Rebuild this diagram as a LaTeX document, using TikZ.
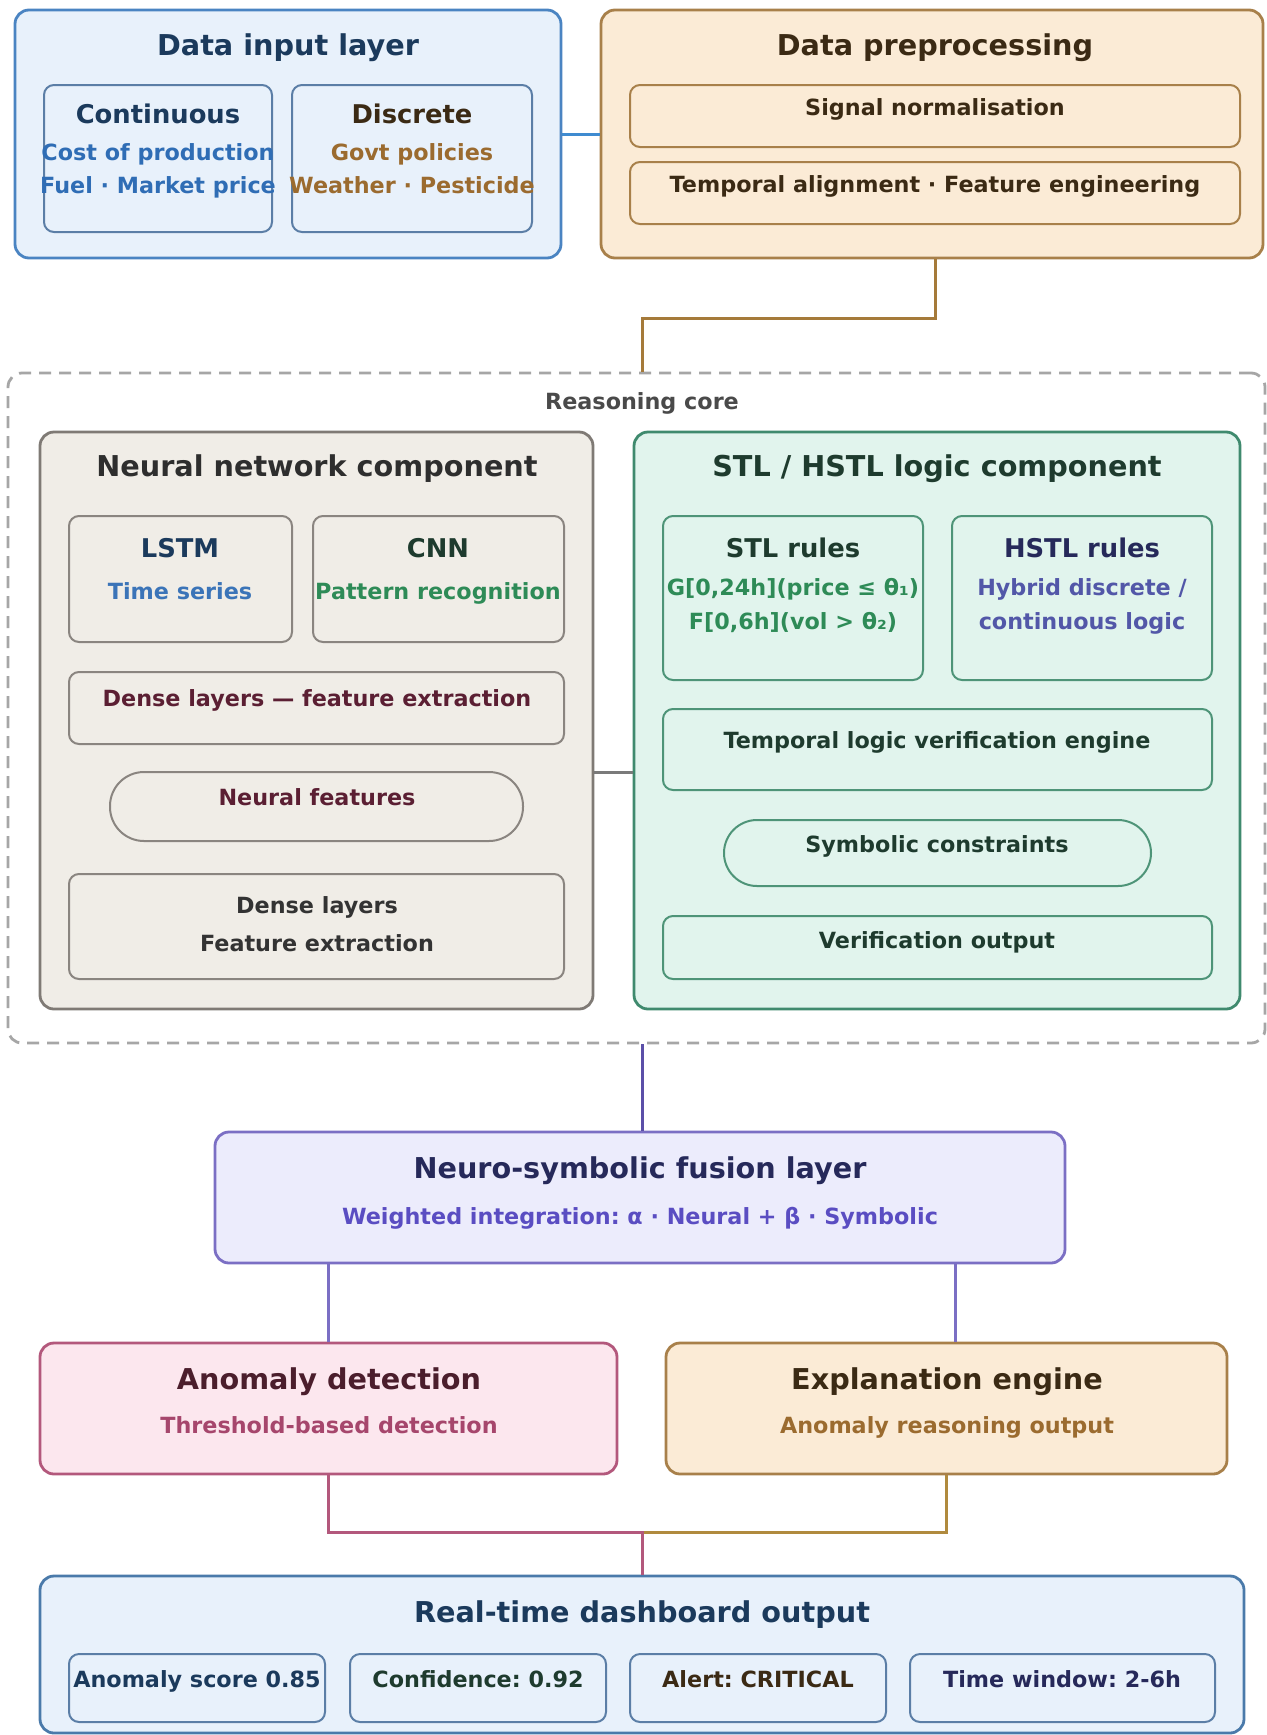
\documentclass[tikz,border=0pt]{standalone}
\usepackage{fontspec}
\setmainfont{DejaVu Sans}
\usetikzlibrary{fit,calc}
\frenchspacing
\definecolor{inFill}{HTML}{E8F1FB}
\definecolor{inDraw}{HTML}{4A84C2}
\definecolor{inInner}{HTML}{5B7EA6}
\definecolor{navy}{HTML}{1B3A5C}
\definecolor{blueTxt}{HTML}{2F6DB5}
\definecolor{brownDark}{HTML}{3B2A14}
\definecolor{brownTxt}{HTML}{9B6B2F}
\definecolor{preFill}{HTML}{FBEBD6}
\definecolor{preDraw}{HTML}{A8804A}
\definecolor{coreDraw}{HTML}{A6A6A6}
\definecolor{coreTxt}{HTML}{4A4A4A}
\definecolor{nnFill}{HTML}{F0EDE7}
\definecolor{nnDraw}{HTML}{7F7A75}
\definecolor{nnInner}{HTML}{8A8580}
\definecolor{darkGray}{HTML}{2E2E2E}
\definecolor{midGray}{HTML}{333333}
\definecolor{lstmBlue}{HTML}{3B74B8}
\definecolor{greenDark}{HTML}{1E3B2E}
\definecolor{greenTxt}{HTML}{2E8B57}
\definecolor{maroon}{HTML}{5B1F33}
\definecolor{stlFill}{HTML}{E1F4ED}
\definecolor{stlDraw}{HTML}{3F8A6E}
\definecolor{stlInner}{HTML}{4E9478}
\definecolor{indigoDark}{HTML}{26295A}
\definecolor{indigoTxt}{HTML}{5257A8}
\definecolor{fusFill}{HTML}{ECECFC}
\definecolor{fusDraw}{HTML}{7B6FC4}
\definecolor{fusTxt}{HTML}{5A4DC2}
\definecolor{anFill}{HTML}{FCE7EE}
\definecolor{anDraw}{HTML}{B3587C}
\definecolor{anDark}{HTML}{4B1E2C}
\definecolor{anTxt}{HTML}{A6466C}
\definecolor{dashDraw}{HTML}{4A7AAA}
\definecolor{wireBlue}{HTML}{3F8BD0}
\definecolor{wireGold}{HTML}{A57A3A}
\definecolor{wireGray}{HTML}{7A7A7A}
\definecolor{wirePurple}{HTML}{5B4FA8}
\definecolor{wireGold2}{HTML}{B08A3E}
\begin{document}
\begin{tikzpicture}[x=0.5pt,y=-0.5pt,
  outer/.style={draw, line width=1.4pt, rounded corners=7pt, inner sep=0pt},
  innerbox/.style={draw, line width=1pt, rounded corners=5pt, inner sep=0pt},
  pill/.style={draw, line width=1pt, rounded corners=16.5pt, inner sep=0pt},
  ttl/.style={anchor=base, inner sep=0pt, font=\bfseries\fontsize{14.35}{17}\selectfont},
  sub/.style={anchor=base, inner sep=0pt, font=\bfseries\fontsize{12.9}{15}\selectfont},
  txt/.style={anchor=base, inner sep=0pt, font=\bfseries\fontsize{11.15}{13}\selectfont},
  wire/.style={line width=1.5pt}]
\useasboundingbox (0,0) rectangle (1266,1735);
\fill[white] (0,0) rectangle (1266,1735);

% ---------- Data input layer ----------
\node[outer, fill=inFill, draw=inDraw, fit={(15,10) (561,258)}] (inp) {};
\node[innerbox, fill=inFill, draw=inInner, fit={(44,85) (272,232)}] (cont) {};
\node[innerbox, fill=inFill, draw=inInner, fit={(292,85) (532,232)}] (disc) {};
\node[ttl, text=navy] (tinp) at (288,55) {Data input layer};
\node[sub, text=navy] (tcont) at (158,123.5) {Continuous};
\node[txt, text=blueTxt] (tcont1) at (158,160) {Cost of production};
\node[txt, text=blueTxt] (tcont2) at (158,193.4) {Fuel · Market price};
\node[sub, text=brownDark] (tdisc) at (412,123.5) {Discrete};
\node[txt, text=brownTxt] (tdisc1) at (412,160) {Govt policies};
\node[txt, text=brownTxt] (tdisc2) at (412,193.4) {Weather · Pesticide};

% ---------- Data preprocessing ----------
\node[outer, fill=preFill, draw=preDraw, fit={(601,10) (1263,258)}] (pre) {};
\node[innerbox, fill=preFill, draw=preDraw, fit={(630,85) (1240,147)}] (norm) {};
\node[innerbox, fill=preFill, draw=preDraw, fit={(630,162) (1240,224)}] (align) {};
\node[ttl, text=brownDark] (tpre) at (935,55) {Data preprocessing};
\node[txt, text=brownDark] (tnorm) at (935,115.4) {Signal normalisation};
\node[txt, text=brownDark] (talign) at (935,192.4) {Temporal alignment · Feature engineering};

% ---------- Reasoning core ----------
\node[draw=coreDraw, line width=1.4pt, dash pattern=on 6pt off 4pt, rounded corners=7pt, inner sep=0pt, fit={(8,373) (1265,1043)}] (core) {};
\node[txt, text=coreTxt] (tcore) at (642,409.4) {Reasoning core};

% Neural network component
\node[outer, fill=nnFill, draw=nnDraw, fit={(40,432) (593,1009)}] (nn) {};
\node[innerbox, fill=nnFill, draw=nnInner, fit={(69,516) (292,642)}] (lstm) {};
\node[innerbox, fill=nnFill, draw=nnInner, fit={(313,516) (564,642)}] (cnn) {};
\node[innerbox, fill=nnFill, draw=nnInner, fit={(69,672) (564,744)}] (dense1) {};
\node[pill, fill=nnFill, draw=nnInner, rounded corners=17pt, fit={(110,772) (523,841)}] (nfeat) {};
\node[innerbox, fill=nnFill, draw=nnInner, fit={(69,874) (564,979)}] (dense2) {};
\node[ttl, text=darkGray] (tnn) at (317,476.5) {Neural network component};
\node[sub, text=navy] (tlstm) at (180,557.5) {LSTM};
\node[txt, text=lstmBlue] (tlstm1) at (180,599.4) {Time series};
\node[sub, text=greenDark] (tcnn) at (438,557.5) {CNN};
\node[txt, text=greenTxt] (tcnn1) at (438,599.4) {Pattern recognition};
\node[txt, text=maroon] (tdense1) at (317,706.4) {Dense layers — feature extraction};
\node[txt, text=maroon] (tnfeat) at (317,805.4) {Neural features};
\node[txt, text=midGray] (tdense2a) at (317,913.4) {Dense layers};
\node[txt, text=midGray] (tdense2b) at (317,951.4) {Feature extraction};

% STL / HSTL logic component
\node[outer, fill=stlFill, draw=stlDraw, fit={(634,432) (1240,1009)}] (stl) {};
\node[innerbox, fill=stlFill, draw=stlInner, fit={(663,516) (923,680)}] (stlr) {};
\node[innerbox, fill=stlFill, draw=stlInner, fit={(952,516) (1212,680)}] (hstl) {};
\node[innerbox, fill=stlFill, draw=stlInner, fit={(663,709) (1212,790)}] (tlve) {};
\node[pill, fill=stlFill, draw=stlInner, fit={(724,820) (1151,886)}] (symc) {};
\node[innerbox, fill=stlFill, draw=stlInner, fit={(663,916) (1212,979)}] (vout) {};
\node[ttl, text=greenDark] (tstl) at (937,476.5) {STL / HSTL logic component};
\node[sub, text=greenDark] (tstlr) at (793,557.5) {STL rules};
\node[txt, text=greenTxt] (tstlr1) at (793,595.4) {G[0,24h](price ≤ θ₁)};
\node[txt, text=greenTxt] (tstlr2) at (793,629.4) {F[0,6h](vol > θ₂)};
\node[sub, text=indigoDark] (thstl) at (1082,557.5) {HSTL rules};
\node[txt, text=indigoTxt] (thstl1) at (1082,595.4) {Hybrid discrete /};
\node[txt, text=indigoTxt] (thstl2) at (1082,629.4) {continuous logic};
\node[txt, text=greenDark] (ttlve) at (937,748.4) {Temporal logic verification engine};
\node[txt, text=greenDark] (tsymc) at (937,852.4) {Symbolic constraints};
\node[txt, text=greenDark] (tvout) at (937,948.4) {Verification output};

% ---------- Fusion ----------
\node[outer, fill=fusFill, draw=fusDraw, fit={(215,1132) (1065,1263)}] (fus) {};
\node[ttl, text=indigoDark] (tfus) at (640,1178.5) {Neuro-symbolic fusion layer};
\node[txt, text=fusTxt] (tfus1) at (640,1224.4) {Weighted integration: α · Neural + β · Symbolic};

% ---------- Anomaly / Explanation ----------
\node[outer, fill=anFill, draw=anDraw, fit={(40,1343) (617,1474)}] (anom) {};
\node[ttl, text=anDark] (tanom) at (329,1389.5) {Anomaly detection};
\node[txt, text=anTxt] (tanom1) at (329,1433.4) {Threshold-based detection};
\node[outer, fill=preFill, draw=preDraw, fit={(666,1343) (1227,1474)}] (expl) {};
\node[ttl, text=brownDark] (texpl) at (947,1389.5) {Explanation engine};
\node[txt, text=brownTxt] (texpl1) at (947,1433.4) {Anomaly reasoning output};

% ---------- Dashboard ----------
\node[outer, fill=inFill, draw=dashDraw, fit={(40,1576) (1244,1733)}] (dash) {};
\node[ttl, text=navy] (tdash) at (642,1622.5) {Real-time dashboard output};
\node[innerbox, fill=inFill, draw=inInner, fit={(69,1654) (325,1722)}] (d1) {};
\node[innerbox, fill=inFill, draw=inInner, fit={(350,1654) (606,1722)}] (d2) {};
\node[innerbox, fill=inFill, draw=inInner, fit={(630,1654) (886,1722)}] (d3) {};
\node[innerbox, fill=inFill, draw=inInner, fit={(910,1654) (1215,1722)}] (d4) {};
\node[txt, text=navy] (td1) at (197,1687.4) {Anomaly score 0.85};
\node[txt, text=greenDark] (td2) at (478,1687.4) {Confidence: 0.92};
\node[txt, text=brownDark] (td3) at (758,1687.4) {Alert: CRITICAL};
\node[txt, text=indigoDark] (td4) at (1062,1687.4) {Time window: 2-6h};

% ---------- Connectors ----------
\draw[wire, draw=wireBlue] (inp.east) -- (pre.west);
\draw[wire, draw=wireGold] ($(pre.south)+(3,0)$) -- ++(0,59) -| ($(core.north)+(6,0)$);
\draw[wire, draw=wireGray] ($(nn.east)+(0,52)$) -- ($(stl.west)+(0,52)$);
\draw[wire, draw=wirePurple] ($(core.south)+(6,0)$) coordinate (cs) -- (cs |- fus.north);
\draw[wire, draw=fusDraw] (fus.south -| anom.north) -- (anom.north);
\draw[wire, draw=fusDraw] ($(fus.south)+(315,0)$) coordinate (fr) -- (fr |- expl.north);
\draw[wire, draw=wireGold2] (expl.south) |- ($(dash.north)+(0,-42)$);
\draw[wire, draw=anDraw] (anom.south) |- ($(dash.north)+(0,-42)$) -- (dash.north);
\end{tikzpicture}
\end{document}
